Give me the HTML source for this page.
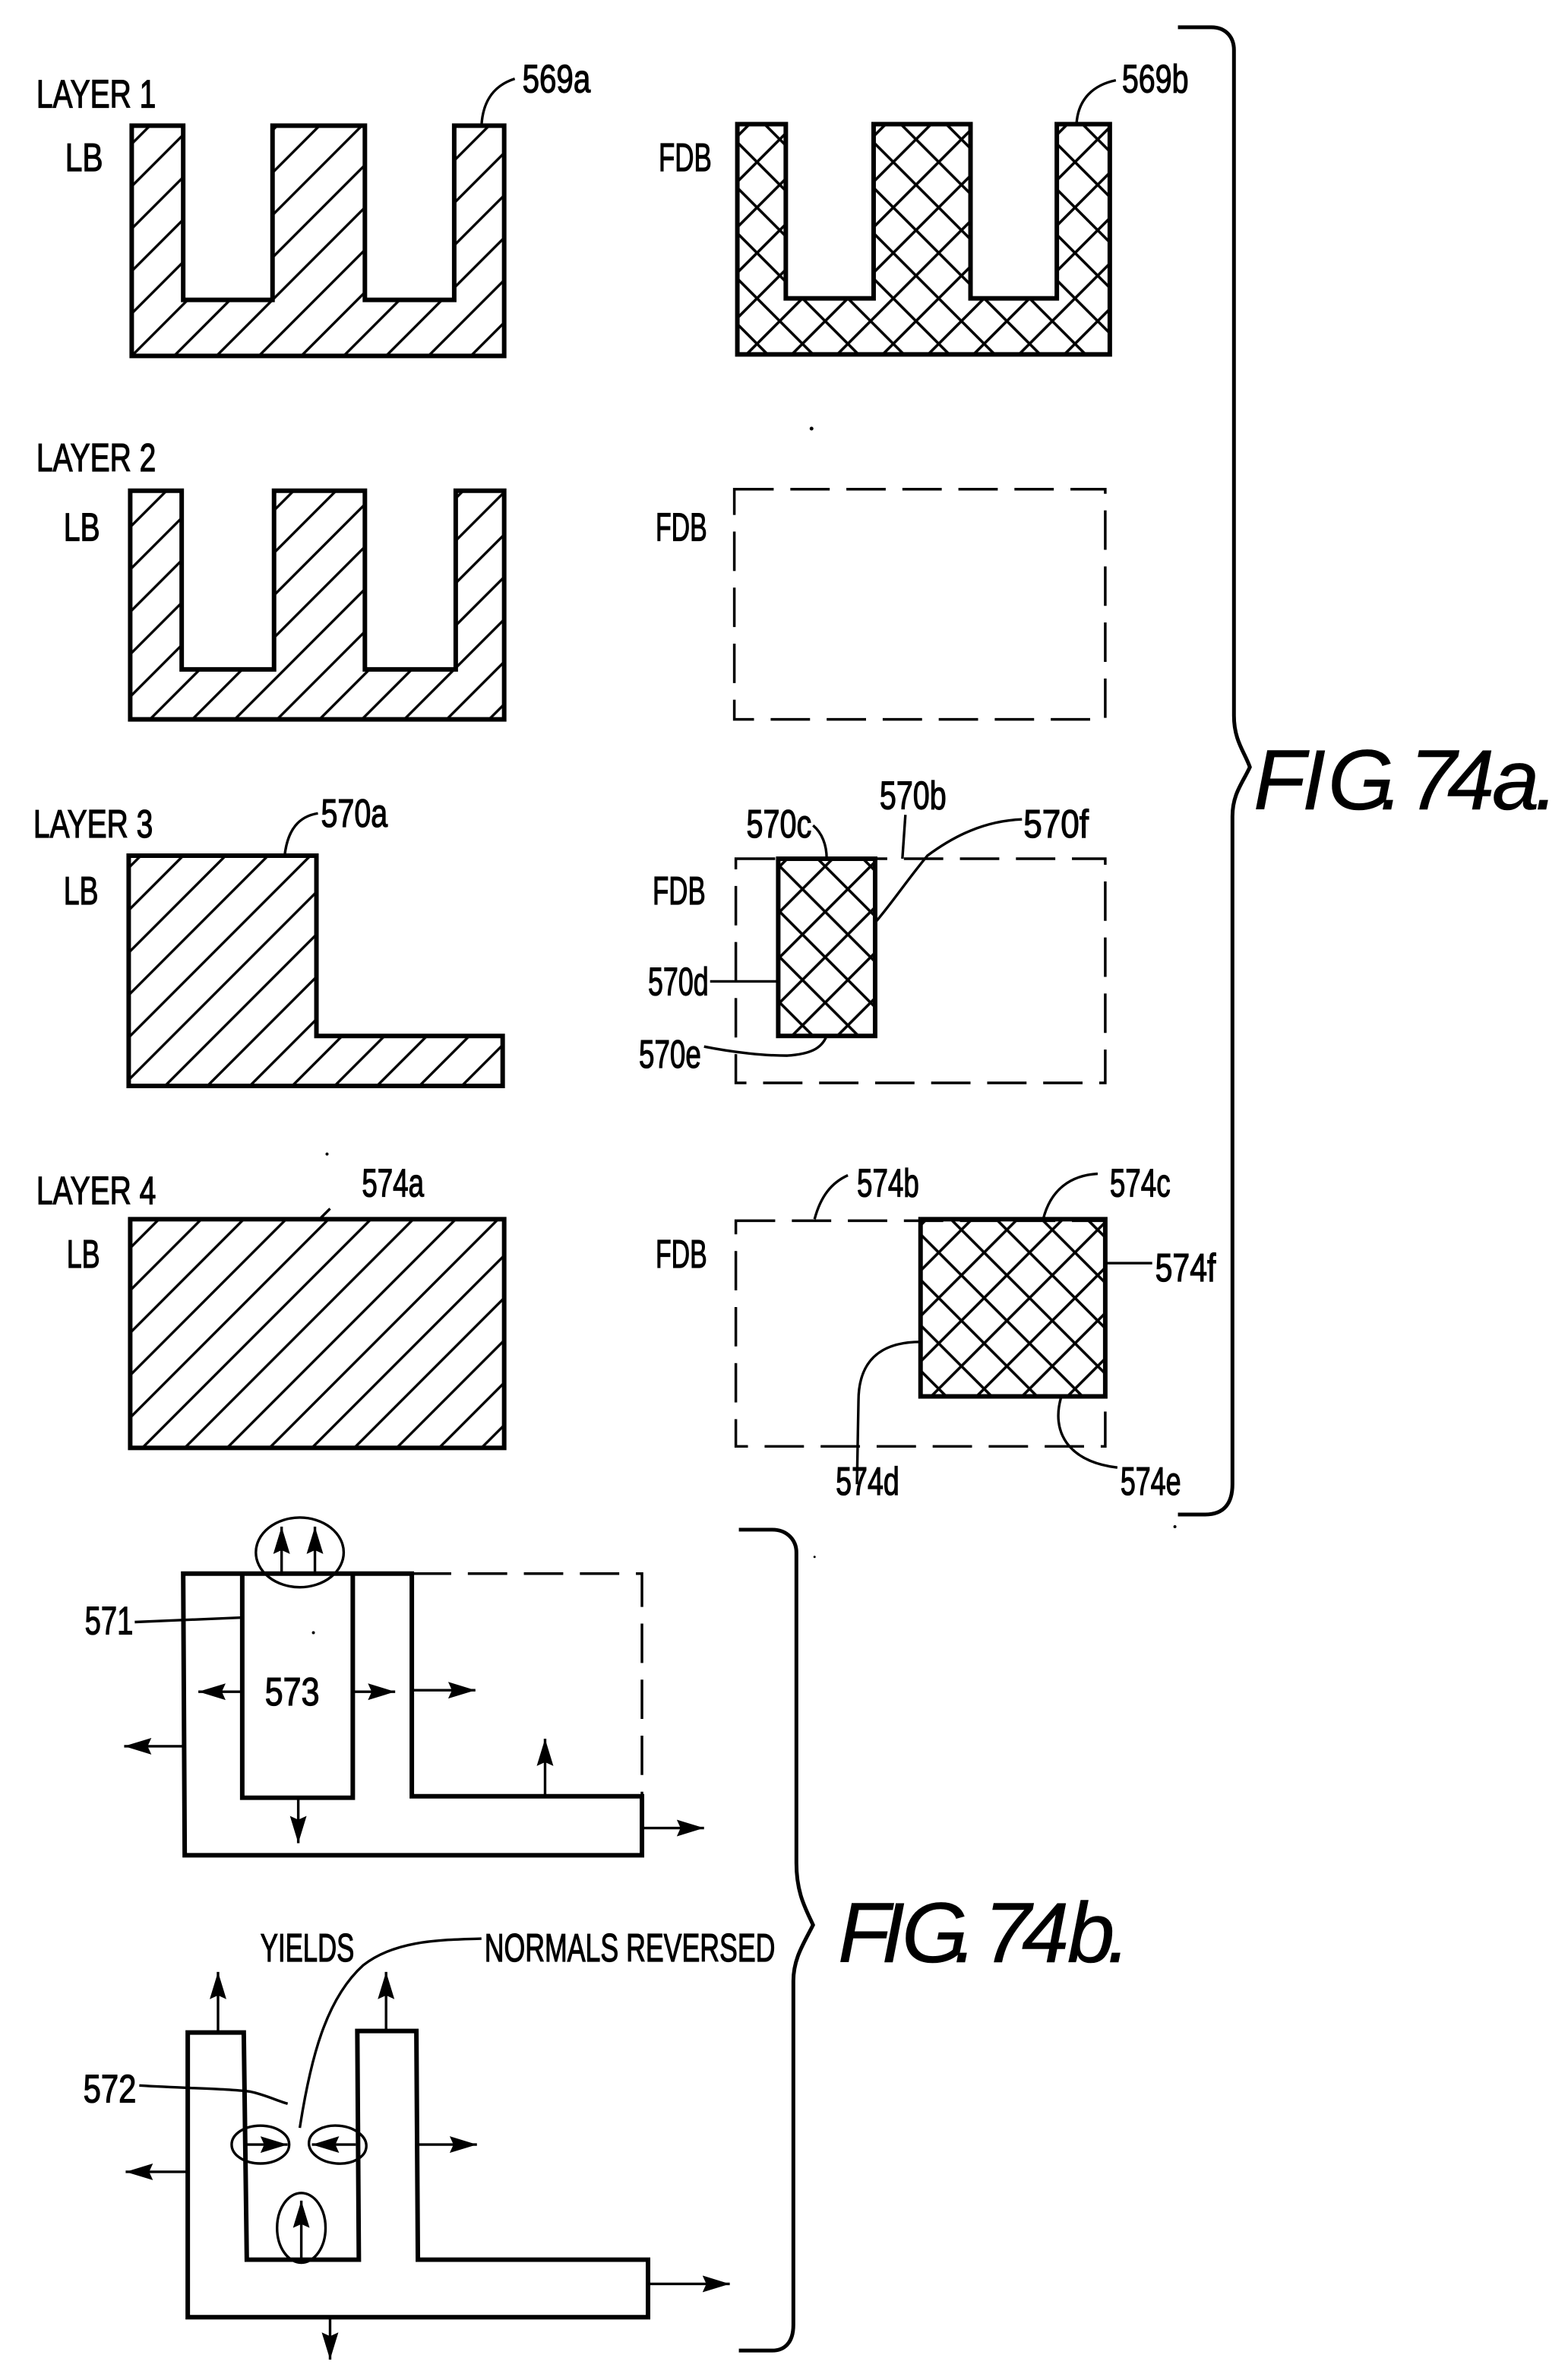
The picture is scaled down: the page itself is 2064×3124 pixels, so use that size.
<!DOCTYPE html>
<html><head><meta charset="utf-8">
<style>
html,body{margin:0;padding:0;background:#fff}
svg{display:block}
text{font-family:"Liberation Sans",sans-serif;fill:#000;stroke:#000;stroke-width:1.3}
.t{font-size:52px}
.f{font-size:112px;font-style:italic;stroke-width:.6}
.o{fill:none;stroke:#000;stroke-width:6;stroke-linejoin:miter}
.d{fill:none;stroke:#000;stroke-width:3.5;stroke-dasharray:52 22}
.l{fill:none;stroke:#000;stroke-width:3.4}
.b{fill:none;stroke:#000;stroke-width:5}
</style></head><body>
<svg xmlns="http://www.w3.org/2000/svg" width="2064" height="3124" viewBox="0 0 2064 3124">
<defs>
<pattern id="h" patternUnits="userSpaceOnUse" width="56" height="56" patternTransform="translate(28 0)">
<path d="M-14 14L14 -14M0 56L56 0M42 70L70 42" stroke="#000" stroke-width="3.4" fill="none"/></pattern>
<pattern id="x" patternUnits="userSpaceOnUse" width="60" height="60" patternTransform="translate(10 4)">
<path d="M-15 15L15 -15M0 60L60 0M45 75L75 45M-15 45L15 75M0 0L60 60M45 -15L75 15" stroke="#000" stroke-width="3.6" fill="none"/></pattern>
<marker id="a" markerUnits="userSpaceOnUse" markerWidth="40" markerHeight="28" refX="36" refY="14" orient="auto">
<path d="M0 3L36 14L0 25L5 14Z" fill="#000"/></marker>
</defs>
<g transform="scale(0.9965)">
<!-- LAYER 1 -->
<path class="o" style="fill:url(#h)" d="M174 166H242V396H360V166H482V396H600V166H666V470H174Z"/>
<path class="o" style="fill:url(#x)" d="M974 164H1038V394H1154V164H1282V394H1396V164H1466V468H974Z"/>
<text class="t" x="48" y="142" textLength="158" lengthAdjust="spacingAndGlyphs">LAYER  1</text>
<text class="t" x="86" y="226" textLength="50" lengthAdjust="spacingAndGlyphs">LB</text>
<text class="t" x="870" y="226" textLength="70" lengthAdjust="spacingAndGlyphs">FDB</text>
<text class="t" x="690" y="122" textLength="90" lengthAdjust="spacingAndGlyphs">569a</text>
<text class="t" x="1482" y="122" textLength="88" lengthAdjust="spacingAndGlyphs">569b</text>
<path class="l" d="M636 166C638 130 655 112 680 104"/>
<path class="l" d="M1422 164C1424 130 1445 112 1474 106"/>

<!-- LAYER 2 -->
<path class="o" style="fill:url(#h)" d="M172 648H240V884H362V648H482V884H602V648H666V950H172Z"/>
<rect class="d" x="970" y="646" width="490" height="304"/>
<text class="t" x="48" y="622" textLength="158" lengthAdjust="spacingAndGlyphs">LAYER  2</text>
<text class="t" x="84" y="714" textLength="48" lengthAdjust="spacingAndGlyphs">LB</text>
<text class="t" x="866" y="714" textLength="68" lengthAdjust="spacingAndGlyphs">FDB</text>

<!-- LAYER 3 -->
<path class="o" style="fill:url(#h)" d="M170 1130H418V1368H664V1434H170Z"/>
<rect class="d" x="972" y="1134" width="488" height="296"/>
<rect class="o" style="fill:url(#x)" x="1028" y="1134" width="128" height="234"/>
<text class="t" x="44" y="1106" textLength="158" lengthAdjust="spacingAndGlyphs">LAYER  3</text>
<text class="t" x="84" y="1194" textLength="46" lengthAdjust="spacingAndGlyphs">LB</text>
<text class="t" x="862" y="1194" textLength="70" lengthAdjust="spacingAndGlyphs">FDB</text>
<text class="t" x="424" y="1092" textLength="88" lengthAdjust="spacingAndGlyphs">570a</text>
<text class="t" x="986" y="1106" textLength="86" lengthAdjust="spacingAndGlyphs">570c</text>
<text class="t" x="1162" y="1068" textLength="88" lengthAdjust="spacingAndGlyphs">570b</text>
<text class="t" x="1352" y="1106" textLength="86" lengthAdjust="spacingAndGlyphs">570f</text>
<text class="t" x="856" y="1314" textLength="80" lengthAdjust="spacingAndGlyphs">570d</text>
<text class="t" x="844" y="1410" textLength="82" lengthAdjust="spacingAndGlyphs">570e</text>
<path class="l" d="M376 1130C380 1095 395 1078 420 1074"/>
<path class="l" d="M1074 1090C1086 1100 1092 1116 1092 1134"/>
<path class="l" d="M1196 1076L1192 1134"/>
<path class="l" d="M1350 1082C1300 1084 1260 1104 1225 1130C1200 1160 1180 1190 1158 1216"/>
<path class="l" d="M938 1296L1028 1296"/>
<path class="l" d="M930 1382C970 1390 1010 1394 1040 1394C1070 1392 1085 1385 1092 1368"/>

<!-- LAYER 4 -->
<rect class="o" style="fill:url(#h)" x="172" y="1610" width="494" height="302"/>
<rect class="d" x="972" y="1612" width="488" height="298"/>
<rect class="o" style="fill:url(#x)" x="1216" y="1610" width="244" height="234"/>
<text class="t" x="48" y="1590" textLength="158" lengthAdjust="spacingAndGlyphs">LAYER  4</text>
<text class="t" x="88" y="1674" textLength="44" lengthAdjust="spacingAndGlyphs">LB</text>
<text class="t" x="866" y="1674" textLength="68" lengthAdjust="spacingAndGlyphs">FDB</text>
<text class="t" x="478" y="1580" textLength="82" lengthAdjust="spacingAndGlyphs">574a</text>
<text class="t" x="1132" y="1580" textLength="82" lengthAdjust="spacingAndGlyphs">574b</text>
<text class="t" x="1466" y="1580" textLength="80" lengthAdjust="spacingAndGlyphs">574c</text>
<text class="t" x="1526" y="1692" textLength="80" lengthAdjust="spacingAndGlyphs">574f</text>
<text class="t" x="1104" y="1974" textLength="84" lengthAdjust="spacingAndGlyphs">574d</text>
<text class="t" x="1480" y="1974" textLength="80" lengthAdjust="spacingAndGlyphs">574e</text>
<path class="l" d="M424 1608L436 1596"/>
<path class="l" d="M1076 1610C1084 1580 1098 1562 1120 1552"/>
<path class="l" d="M1378 1610C1388 1570 1415 1552 1450 1550"/>
<path class="l" d="M1460 1668L1522 1668"/>
<path class="l" d="M1216 1772C1160 1772 1134 1800 1134 1850L1132 1960"/>
<path class="l" d="M1402 1844C1388 1890 1410 1930 1476 1938"/>

<!-- Brace a -->
<path class="b" d="M1556 36H1600C1620 36 1630 50 1630 66V945C1630 978 1644 993 1651 1013C1642 1033 1628 1048 1628 1078V1960C1628 1985 1617 2000 1592 2000H1556"/>

<!-- FIG 74b upper -->
<path class="o" d="M242 2078H544V2372H848V2450H244Z"/>
<path class="o" d="M320 2078V2374H466V2078"/>
<path class="d" d="M544 2078H848V2372"/>
<ellipse class="l" cx="396" cy="2050" rx="58" ry="46"/>
<path class="l" marker-end="url(#a)" d="M372 2078V2016"/>
<path class="l" marker-end="url(#a)" d="M416 2078V2016"/>
<path class="l" marker-end="url(#a)" d="M320 2234H262"/>
<path class="l" marker-end="url(#a)" d="M466 2234H522"/>
<path class="l" marker-end="url(#a)" d="M544 2232H628"/>
<path class="l" marker-end="url(#a)" d="M242 2306H164"/>
<path class="l" marker-end="url(#a)" d="M394 2374V2434"/>
<path class="l" marker-end="url(#a)" d="M720 2372V2296"/>
<path class="l" marker-end="url(#a)" d="M848 2414H930"/>
<text class="t" x="112" y="2158" textLength="64" lengthAdjust="spacingAndGlyphs">571</text>
<text class="t" x="350" y="2252" textLength="72" lengthAdjust="spacingAndGlyphs">573</text>
<path class="l" d="M178 2142L320 2136"/>

<!-- FIG 74b lower -->
<path class="o" d="M248 2684H322L326 2984H474L472 2682H550L552 2984H856V3060H248Z"/>
<path class="l" marker-end="url(#a)" d="M288 2684V2604"/>
<path class="l" marker-end="url(#a)" d="M510 2682V2604"/>
<path class="l" marker-end="url(#a)" d="M552 2832H630"/>
<path class="l" marker-end="url(#a)" d="M248 2868H166"/>
<path class="l" marker-end="url(#a)" d="M856 3016H964"/>
<path class="l" marker-end="url(#a)" d="M436 3060V3116"/>
<ellipse class="l" cx="344" cy="2832" rx="38" ry="25"/>
<ellipse class="l" cx="446" cy="2832" rx="38" ry="25" transform="rotate(5 446 2832)"/>
<ellipse class="l" cx="398" cy="2942" rx="32" ry="46"/>
<path class="l" marker-end="url(#a)" d="M322 2832H380"/>
<path class="l" marker-end="url(#a)" d="M470 2832H412"/>
<path class="l" marker-end="url(#a)" d="M398 2984V2906"/>
<text class="t" x="344" y="2590" textLength="124" lengthAdjust="spacingAndGlyphs">YIELDS</text>
<text class="t" x="640" y="2590" textLength="384" lengthAdjust="spacingAndGlyphs">NORMALS  REVERSED</text>
<text class="t" x="110" y="2776" textLength="70" lengthAdjust="spacingAndGlyphs">572</text>
<path class="l" d="M636 2560C590 2562 525 2560 480 2595C430 2640 410 2720 396 2810"/>
<path class="l" d="M184 2754C250 2758 300 2758 330 2762C350 2766 368 2775 380 2778"/>

<!-- Brace b -->
<path class="b" d="M976 2020H1020C1040 2020 1052 2034 1052 2050V2460C1052 2500 1064 2520 1074 2542C1062 2566 1048 2586 1048 2616V3070C1048 3095 1035 3104 1020 3104H976"/>

<!-- specks -->
<g fill="#000"><circle cx="1072" cy="566" r="2.5"/><circle cx="432" cy="1524" r="2"/><circle cx="1076" cy="2056" r="1.5"/><circle cx="414" cy="2156" r="2"/><circle cx="1552" cy="2016" r="2"/></g>
</g>
<text class="f" y="1065" x="1650 1714 1748 1816 1840 1855 1905 1964 2020">FIG. 74a.</text>
<text class="f" y="2582" x="1103 1160 1187 1255 1280 1295 1345 1405 1457">FIG. 74b.</text>
</svg>
</body></html>
